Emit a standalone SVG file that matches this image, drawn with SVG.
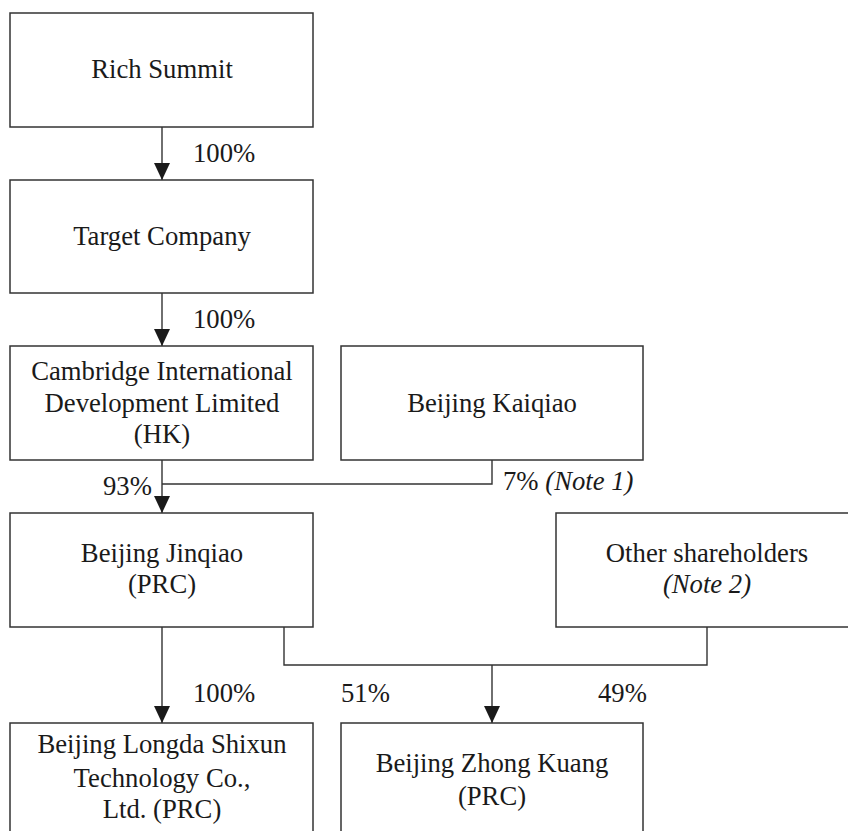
<svg xmlns="http://www.w3.org/2000/svg" width="848" height="831" viewBox="0 0 848 831">
<defs>
<style>
.box{fill:#fff;stroke:#333;stroke-width:1.5}
.t{font-family:"Liberation Serif","Times New Roman",serif;font-size:26.7px;fill:#1a1a1a;text-anchor:middle}
.l{font-family:"Liberation Serif","Times New Roman",serif;font-size:26.7px;fill:#1a1a1a}
.i{font-style:italic}
.c{fill:none;stroke:#333;stroke-width:1.4}
</style>
<marker id="ah" markerUnits="userSpaceOnUse" viewBox="0 0 17 16" markerWidth="17" markerHeight="16" refX="17" refY="8" orient="auto">
<path d="M0,0 L17,8 L0,16 z" fill="#1a1a1a"/>
</marker>
</defs>
<rect width="848" height="831" fill="#fff"/>
<g id="connectors">
<line class="c" x1="162" y1="127" x2="162" y2="180" marker-end="url(#ah)"/>
<line class="c" x1="162" y1="293" x2="162" y2="346" marker-end="url(#ah)"/>
<line class="c" x1="162" y1="460" x2="162" y2="513" marker-end="url(#ah)"/>
<polyline class="c" points="492,460 492,484 162,484"/>
<line class="c" x1="162" y1="627" x2="162" y2="723" marker-end="url(#ah)"/>
<polyline class="c" points="284,627 284,665 707,665 707,627"/>
<line class="c" x1="492" y1="665" x2="492" y2="723" marker-end="url(#ah)"/>
<text class="l" x="193" y="162">100%</text>
<text class="l" x="193" y="328">100%</text>
<text class="l" x="103" y="495">93%</text>
<text class="l" x="503" y="490">7% <tspan class="i">(Note 1)</tspan></text>
<text class="l" x="193" y="702">100%</text>
<text class="l" x="341" y="702">51%</text>
<text class="l" x="598" y="702">49%</text>
</g>
<g id="rich-summit">
<rect class="box" x="10" y="13" width="303" height="114"/>
<text class="t" x="162" y="78">Rich Summit</text>
</g>
<g id="target-company">
<rect class="box" x="10" y="180" width="303" height="113"/>
<text class="t" x="162" y="245">Target Company</text>
</g>
<g id="cambridge">
<rect class="box" x="10" y="346" width="303" height="114"/>
<text class="t" x="162" y="380">Cambridge International</text>
<text class="t" x="162" y="412">Development Limited</text>
<text class="t" x="162" y="443">(HK)</text>
</g>
<g id="beijing-kaiqiao">
<rect class="box" x="341" y="346" width="302" height="114"/>
<text class="t" x="492" y="412">Beijing Kaiqiao</text>
</g>
<g id="beijing-jinqiao">
<rect class="box" x="10" y="513" width="303" height="114"/>
<text class="t" x="162" y="562">Beijing Jinqiao</text>
<text class="t" x="162" y="593">(PRC)</text>
</g>
<g id="other-shareholders">
<rect class="box" x="556" y="513" width="303" height="114"/>
<text class="t" x="707" y="562">Other shareholders</text>
<text class="t i" x="707" y="593">(Note 2)</text>
</g>
<g id="beijing-longda">
<rect class="box" x="10" y="723" width="303" height="114"/>
<text class="t" x="162" y="753">Beijing Longda Shixun</text>
<text class="t" x="162" y="787">Technology Co.,</text>
<text class="t" x="162" y="818">Ltd. (PRC)</text>
</g>
<g id="beijing-zhong-kuang">
<rect class="box" x="341" y="723" width="302" height="114"/>
<text class="t" x="492" y="772">Beijing Zhong Kuang</text>
<text class="t" x="492" y="805">(PRC)</text>
</g>
</svg>
